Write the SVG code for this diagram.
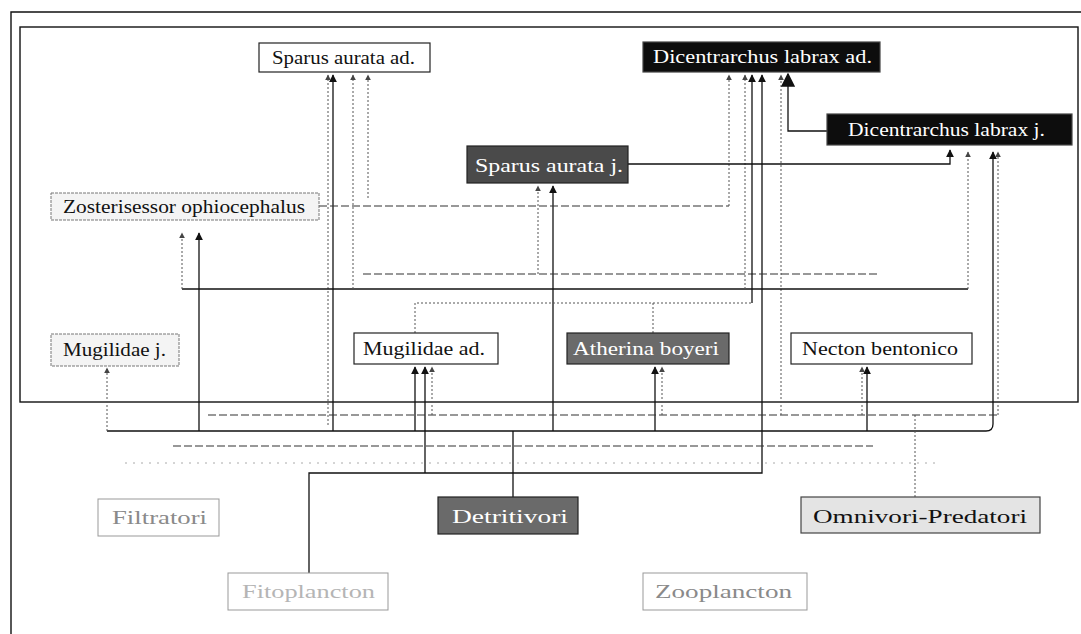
<svg xmlns="http://www.w3.org/2000/svg" width="1081" height="634" viewBox="0 0 1081 634">
<style>
.box{fill:#fff;stroke:#222;stroke-width:1.2}
.dark{fill:#0d0d0d;stroke:#444;stroke-width:1.2}
.mid{fill:#4a4a4a;stroke:#222;stroke-width:1.2}
.mid2{fill:#6a6a6a;stroke:#222;stroke-width:1.2}
.light{fill:#e4e4e4;stroke:#444;stroke-width:1.2}
.pale{fill:#f4f4f4;stroke:#777;stroke-width:1;stroke-dasharray:3 1}
.lt{fill:#fff;stroke:#999;stroke-width:1}
.t{font-family:"Liberation Serif","Times New Roman",serif;font-size:19px;fill:#111}
.tw{fill:#fff}
.tg{fill:#8a8a8a}
.tgl{fill:#b5b5b5}
.s{fill:none;stroke:#111;stroke-width:1.3}
.d{fill:none;stroke:#555;stroke-width:1;stroke-dasharray:2 2}
.dd{fill:none;stroke:#333;stroke-width:1.1;stroke-dasharray:8 3}
.f{fill:none;stroke:#aaa;stroke-width:1;stroke-dasharray:2 6}
.frame{fill:none;stroke:#111;stroke-width:1.4}
</style>
<defs>
<marker id="a" viewBox="0 0 10 10" refX="9" refY="5" markerWidth="6" markerHeight="6" orient="auto"><path d="M0,0 L10,5 L0,10 z" fill="#111"/></marker>
<marker id="ag" viewBox="0 0 10 10" refX="9" refY="5" markerWidth="6" markerHeight="6" orient="auto"><path d="M0,0 L10,5 L0,10 z" fill="#444"/></marker>
<marker id="ab" viewBox="0 0 10 10" refX="9" refY="5" markerWidth="11" markerHeight="11" orient="auto"><path d="M0,0 L10,5 L0,10 z" fill="#111"/></marker>
</defs>
<rect width="1081" height="634" fill="#fff"/>
<g id="frames">
<path class="frame" d="M11,634 V12 H1081"/>
<rect class="frame" x="20" y="27" width="1058" height="375"/>
</g>
<g id="connectors">
<path class="s" d="M513,497 V431"/>
<path class="s" d="M107,431 H986 Q993,431 993,424 V152" marker-end="url(#a)"/>
<path class="d" d="M107,431 V368" marker-end="url(#ag)"/>
<path class="s" d="M199,431 V233" marker-end="url(#a)"/>
<path class="s" d="M333,431 V75" marker-end="url(#a)"/>
<path class="s" d="M415,431 V367" marker-end="url(#a)"/>
<path class="s" d="M553,431 V186" marker-end="url(#a)"/>
<path class="s" d="M655,431 V367" marker-end="url(#a)"/>
<path class="s" d="M867,431 V367" marker-end="url(#a)"/>
<path class="s" d="M309,573 V473 H762 V75" marker-end="url(#a)"/>
<path class="s" d="M425,473 V367" marker-end="url(#a)"/>
<path class="d" d="M915,497 V415"/>
<path class="dd" d="M208,415 H998"/>
<path class="d" d="M998,415 V152" marker-end="url(#ag)"/>
<path class="d" d="M328,425 V75" marker-end="url(#ag)"/>
<path class="d" d="M432,415 V367" marker-end="url(#ag)"/>
<path class="d" d="M662,415 V367" marker-end="url(#ag)"/>
<path class="d" d="M862,415 V367" marker-end="url(#ag)"/>
<path class="d" d="M781,415 V75" marker-end="url(#ag)"/>
<path class="s" d="M182,289 H968"/>
<path class="d" d="M182,289 V233" marker-end="url(#ag)"/>
<path class="d" d="M968,289 V152" marker-end="url(#ag)"/>
<path class="d" d="M353,289 V75" marker-end="url(#ag)"/>
<path class="d" d="M745,289 V75" marker-end="url(#ag)"/>
<path class="dd" d="M363,274 H877"/>
<path class="d" d="M538,274 V186" marker-end="url(#ag)"/>
<path class="d" d="M415,333 V303 H752"/>
<path class="d" d="M653,333 V303"/>
<path class="s" d="M752,303 V75" marker-end="url(#a)"/>
<path class="dd" d="M319,206 H729"/>
<path class="d" d="M729,206 V75" marker-end="url(#ag)"/>
<path class="d" d="M368,198 V75" marker-end="url(#ag)"/>
<path class="s" d="M628,164 H950 V150" marker-end="url(#a)"/>
<path class="s" d="M827,131 H788 V74" marker-end="url(#ab)"/>
<path class="dd" d="M173,446 H873"/>
<path class="f" d="M125,463 H935"/>
</g>
<g id="n_sparus_ad"><rect class="box" x="259" y="43" width="171" height="29"/><text class="t" x="272" y="64" textLength="143" lengthAdjust="spacingAndGlyphs">Sparus aurata ad.</text></g>
<g id="n_dic_ad"><rect class="dark" x="643" y="42" width="237" height="30"/><text class="t tw" x="653" y="63" textLength="219" lengthAdjust="spacingAndGlyphs">Dicentrarchus labrax ad.</text></g>
<g id="n_dic_j"><rect class="dark" x="827" y="114" width="245" height="31"/><text class="t tw" x="848" y="136" textLength="197" lengthAdjust="spacingAndGlyphs">Dicentrarchus labrax j.</text></g>
<g id="n_sparus_j"><rect class="mid" x="467" y="146" width="161" height="37"/><text class="t tw" x="475" y="172" textLength="148" lengthAdjust="spacingAndGlyphs">Sparus aurata j.</text></g>
<g id="n_zoster"><rect class="pale" x="51" y="193" width="268" height="27"/><text class="t" x="63" y="213" textLength="242" lengthAdjust="spacingAndGlyphs">Zosterisessor ophiocephalus</text></g>
<g id="n_mug_j"><rect class="pale" x="51" y="334" width="128" height="32"/><text class="t" x="63" y="356" textLength="103" lengthAdjust="spacingAndGlyphs">Mugilidae j.</text></g>
<g id="n_mug_ad"><rect class="box" x="354" y="333" width="144" height="31"/><text class="t" x="363" y="355" textLength="122" lengthAdjust="spacingAndGlyphs">Mugilidae ad.</text></g>
<g id="n_atherina"><rect class="mid2" x="567" y="333" width="162" height="31"/><text class="t tw" x="573" y="355" textLength="146" lengthAdjust="spacingAndGlyphs">Atherina boyeri</text></g>
<g id="n_necton"><rect class="box" x="791" y="333" width="181" height="31"/><text class="t" x="802" y="355" textLength="156" lengthAdjust="spacingAndGlyphs">Necton bentonico</text></g>
<g id="n_filtratori"><rect class="lt" x="98" y="499" width="121" height="37"/><text class="t tg" x="112" y="524" textLength="95" lengthAdjust="spacingAndGlyphs">Filtratori</text></g>
<g id="n_detritivori"><rect class="mid2" x="438" y="497" width="140" height="37"/><text class="t tw" x="452" y="523" textLength="116" lengthAdjust="spacingAndGlyphs">Detritivori</text></g>
<g id="n_omnivori"><rect class="light" x="801" y="497" width="239" height="36"/><text class="t" x="813" y="523" textLength="214" lengthAdjust="spacingAndGlyphs">Omnivori-Predatori</text></g>
<g id="n_fito"><rect class="lt" x="228" y="573" width="160" height="37"/><text class="t tgl" x="242" y="598" textLength="133" lengthAdjust="spacingAndGlyphs">Fitoplancton</text></g>
<g id="n_zoo"><rect class="lt" x="643" y="573" width="164" height="37"/><text class="t tg" x="655" y="598" textLength="137" lengthAdjust="spacingAndGlyphs">Zooplancton</text></g>
</svg>
